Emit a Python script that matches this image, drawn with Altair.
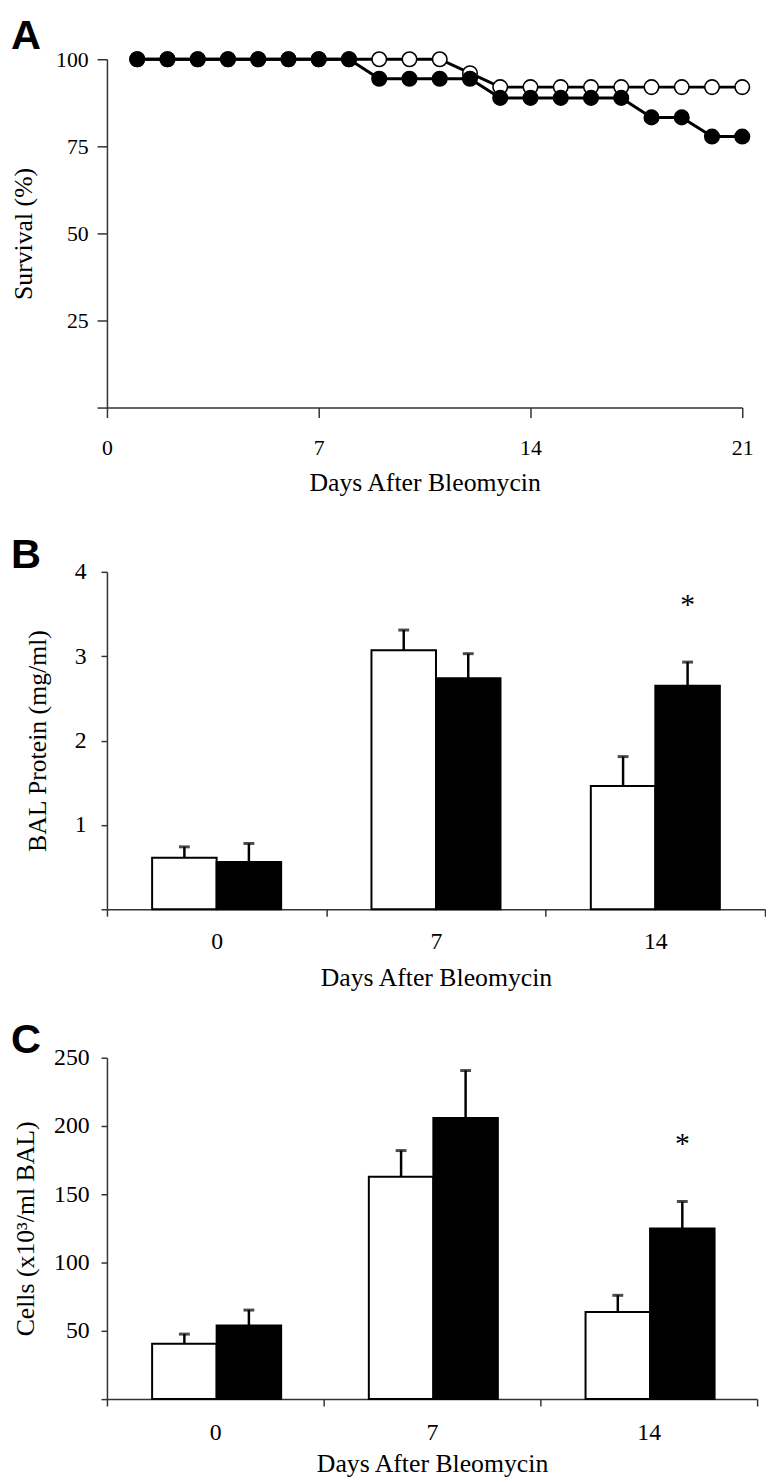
import altair as alt
import pandas as pd

# ---------------- data ----------------
surv_days = [1, 2, 3, 4, 5, 6, 7, 8, 9, 10, 11, 12, 13, 14, 15, 16, 17, 18, 19, 20, 21]
surv_open = [100, 100, 100, 100, 100, 100, 100, 100, 100, 100, 100, 96,
             92, 92, 92, 92, 92, 92, 92, 92, 92]
surv_filled = [100, 100, 100, 100, 100, 100, 100, 100, 94.4, 94.4, 94.4, 94.4,
               88.9, 88.9, 88.9, 88.9, 88.9, 83.3, 83.3, 77.8, 77.8]
surv_ticks = [0, 7, 14, 21]
surv_yticks = [0, 25, 50, 75, 100]

bar_days = ["0", "7", "14"]
groups = ["open", "filled"]

protein_open = [0.61, 3.07, 1.46]
protein_open_sem = [0.13, 0.24, 0.35]
protein_filled = [0.56, 2.74, 2.65]
protein_filled_sem = [0.22, 0.29, 0.28]
protein_sig = ["", "", "*"]
protein_yticks = [0, 1, 2, 3, 4]

cells_open = [40.6, 162.8, 63.8]
cells_open_sem = [7.0, 19.2, 12.2]
cells_filled = [54.0, 205.8, 124.9]
cells_filled_sem = [11.2, 34.8, 19.8]
cells_sig = ["", "", "*"]
cells_yticks = [0, 50, 100, 150, 200, 250]

panel_letters = ["A", "B", "C"]

SERIF = "Liberation Serif"
SANS = "Liberation Sans"
AXC = "#333333"
LETTER_SIZE = 42
LETTER_X = -97

# ---------------- panel A ----------------
dfA = pd.DataFrame({
    "day": surv_days + surv_days,
    "survival": surv_open + surv_filled,
    "group": ["open"] * len(surv_days) + ["filled"] * len(surv_days),
})

xA = alt.X("day:Q", scale=alt.Scale(domain=[0, 21], nice=False, zero=False),
           axis=alt.Axis(values=surv_ticks, title="Days After Bleomycin", tickSize=10,
                         labelFontSize=22, labelPadding=20, titlePadding=12, labelFlush=False))
yA = alt.Y("survival:Q", scale=alt.Scale(domain=[0, 100], nice=False),
           axis=alt.Axis(values=surv_yticks, format="d",
                         labelExpr="datum.value == 0 ? '' : datum.label",
                         title="Survival (%)", tickSize=10, labelFontSize=22, labelPadding=9,
                         titlePadding=19))

linesA = alt.Chart(dfA).mark_line(color="black", strokeWidth=3).encode(
    x=xA, y=yA, detail="group:N")
openA = alt.Chart(dfA).transform_filter("datum.group == 'open'").mark_point(
    shape="circle", filled=True, fill="white", stroke="black", strokeWidth=1.6,
    size=215, opacity=1).encode(x=xA, y=yA)
filledA = alt.Chart(dfA).transform_filter("datum.group == 'filled'").mark_point(
    shape="circle", filled=True, fill="black", stroke="black", strokeWidth=1.6,
    size=215, opacity=1).encode(x=xA, y=yA)
letterA = alt.Chart(pd.DataFrame({"t": [panel_letters[0]]})).mark_text(
    align="left", baseline="top", font=SANS, fontWeight="bold", fontSize=LETTER_SIZE).encode(
    x=alt.value(LETTER_X), y=alt.value(-43), text="t:N")

panelA = alt.layer(linesA, openA, filledA, letterA).properties(width=642, height=352)


# ---------------- bar panels ----------------
def bar_panel(open_vals, open_sem, filled_vals, filled_sem, sig, ytitle, ymax, yticks,
              width, height, top_gap, letter, letter_y, lab_pad, title_pad,
              xlab_pad, xtitle_pad):
    df = pd.DataFrame({
        "day": bar_days + bar_days,
        "group": ["open"] * 3 + ["filled"] * 3,
        "value": open_vals + filled_vals,
        "sem": open_sem + filled_sem,
        "sig": ["", "", ""] + sig,
    })
    base = alt.Chart(df).transform_calculate(top="datum.value + datum.sem")
    x = alt.X("day:N", sort=bar_days, scale=alt.Scale(paddingInner=0, paddingOuter=0),
              axis=alt.Axis(tickBand="extent", labelAngle=0, title="Days After Bleomycin",
                            tickSize=7, labelFontSize=24, labelPadding=xlab_pad,
                            titlePadding=xtitle_pad))
    xo = alt.XOffset("group:N", sort=groups,
                     scale=alt.Scale(paddingInner=0, paddingOuter=0.7))
    total_h = height + top_gap
    y = alt.Y("value:Q", scale=alt.Scale(domain=[0, ymax], nice=False,
                                         range=[total_h, top_gap]),
              axis=alt.Axis(values=yticks, format="d",
                            labelExpr="datum.value == 0 ? '' : datum.label",
                            title=ytitle, tickSize=6, labelFontSize=24, labelPadding=lab_pad,
                            titlePadding=title_pad))
    bars = base.mark_bar(stroke="black", strokeWidth=2).encode(
        x=x, xOffset=xo, y=y,
        fill=alt.Fill("group:N", scale=alt.Scale(domain=groups, range=["white", "black"]),
                      legend=None))
    err = base.mark_rule(color="black", strokeWidth=2.5).encode(
        x=x, xOffset=xo, y="value:Q", y2="top:Q")
    cap = base.mark_tick(color="black", thickness=3, size=11, orient="horizontal").encode(
        x=x, xOffset=xo, y="top:Q")
    star = base.mark_text(font=SERIF, fontSize=30, baseline="alphabetic", dy=-49,
                          color="black").encode(x=x, xOffset=xo, y="top:Q", text="sig:N")
    let = alt.Chart(pd.DataFrame({"t": [letter]})).mark_text(
        align="left", baseline="top", font=SANS, fontWeight="bold",
        fontSize=LETTER_SIZE).encode(
        x=alt.value(LETTER_X), y=alt.value(letter_y), text="t:N")
    return alt.layer(bars, err, cap, star, let).properties(width=width, height=total_h)


panelB = bar_panel(protein_open, protein_open_sem, protein_filled, protein_filled_sem,
                   protein_sig, "BAL Protein (mg/ml)", 4, protein_yticks, 665, 341, 16,
                   panel_letters[1], -21, 15, 24, 14, 11)
panelC = bar_panel(cells_open, cells_open_sem, cells_filled, cells_filled_sem,
                   cells_sig, "Cells (x10\u00b3/ml BAL)", 250, cells_yticks, 657, 345, 0,
                   panel_letters[2], -38, 12, 15, 15, 6)

chart = alt.vconcat(panelA, panelB, panelC, spacing=150, bounds="flush").properties(
    padding={"left": 3, "top": 0, "right": 0, "bottom": 0}
).configure_view(stroke=None).configure_axis(
    grid=False, domainColor=AXC, domainWidth=1.5, tickColor=AXC, tickWidth=1.5,
    labelFont=SERIF, labelColor="black", titleFont=SERIF, titleColor="black",
    titleFontWeight="normal", titleFontSize=26
)

chart.save("out.html", embed_options={"renderer": "svg", "actions": False})
